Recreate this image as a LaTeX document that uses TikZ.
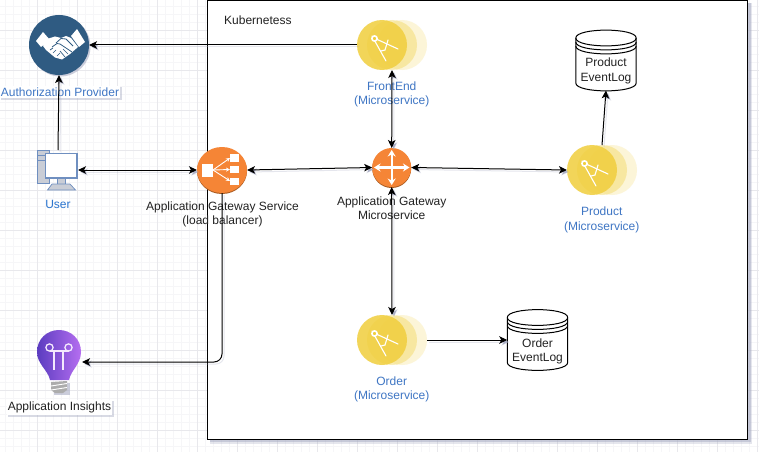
\documentclass[tikz,border=0pt]{standalone}
\usepackage{fontspec}
\setmainfont{Liberation Sans}
\usetikzlibrary{arrows.meta,shapes.geometric,shadows,calc}
\definecolor{gridmaj}{HTML}{E8E8EC}
\definecolor{gridmin}{HTML}{F6F6F8}
\definecolor{lblue}{HTML}{3F76C4}
\definecolor{ublue}{HTML}{2A74CE}
\definecolor{ink}{HTML}{222222}
\definecolor{authc}{HTML}{2F5B82}
\definecolor{orangec}{HTML}{F58536}
\definecolor{orangedk}{HTML}{A85A20}
\definecolor{yellowc}{HTML}{F0CE3C}
\definecolor{shadowc}{HTML}{A9ADC4}
\definecolor{towerc}{HTML}{C9CDD6}
\definecolor{frameb}{HTML}{6F8FC0}
\definecolor{bulbl}{HTML}{5B3CC0}
\definecolor{bulbr}{HTML}{B56EF0}
\tikzset{
  txt/.style={font=\fontsize{12}{14.4}\selectfont,align=center,text=ink,inner sep=0pt},
  bluetxt/.style={txt,text=lblue},
  tag/.style={txt,fill=white,inner xsep=1pt,inner ysep=2pt,drop shadow={shadow xshift=1.5pt,shadow yshift=-1.5pt,fill=shadowc,opacity=.45}},
  holder/.style={inner sep=0pt,outer sep=0pt,draw=none},
  conn/.style={line width=1pt,draw=black,preaction={draw=shadowc,draw opacity=.3,line width=1pt,transform canvas={shift={(2,2)}}}},
  one/.style={conn,-{Stealth[length=8pt,width=7.5pt,inset=2pt]}},
  both/.style={conn,{Stealth[length=8pt,width=7.5pt,inset=2pt]}-{Stealth[length=8pt,width=7.5pt,inset=2pt]}},
  icon/.style={draw=white,line width=1.1pt,line cap=round},
}
\newcommand{\MicroSvc}[3]{%
  \fill[yellowc,opacity=.2] (#1+10,#2) circle[radius=25];
  \fill[yellowc,opacity=.35] (#1,#2) circle[radius=25];
  \fill[yellowc,opacity=.85] (#1-10,#2) circle[radius=25];
  \node[holder,minimum width=70pt,minimum height=50pt] (#3) at (#1,#2) {};
  \begin{scope}[shift={(#1-10,#2)}]
    \draw[icon] (-10,-9) -- (4,16);
    \draw[icon] (-8,-7) -- (16,4);
    \draw[icon] (-1,6) -- (3,5) -- (6,-5);
    \draw[white,line width=1.6pt,fill=yellowc] (-7.5,-6.5) circle[radius=2.6];
  \end{scope}
}
\newcommand{\DataStore}[3]{%
  \node[holder,minimum width=60.5pt,minimum height=60pt] (#3) at (#1,#2) {};
  \begin{scope}[shift={(#1,#2)},line width=1pt]
    \draw[fill=white] (-30.2,-22.5) .. controls (-30.2,-33) and (30.2,-33) .. (30.2,-22.5)
      -- (30.2,22.5) .. controls (30.2,33) and (-30.2,33) .. (-30.2,22.5) -- cycle;
    \draw (-30.2,-22.5) .. controls (-30.2,-12) and (30.2,-12) .. (30.2,-22.5);
    \draw (-30.2,-18.5) .. controls (-30.2,-8) and (30.2,-8) .. (30.2,-18.5);
    \draw (-30.2,-14.5) .. controls (-30.2,-4) and (30.2,-4) .. (30.2,-14.5);
  \end{scope}
}
\begin{document}
\begin{tikzpicture}[x=1pt,y=-1pt]
\useasboundingbox (0,0) rectangle (759,452);
\fill[white] (0,0) rectangle (759,452);
% grid
\foreach \k in {0,...,95} {\draw[gridmin,line width=.6pt] ({5+8*\k},0) -- ({5+8*\k},452);}
\foreach \k in {0,...,56} {\draw[gridmin,line width=.6pt] (0,{6+8*\k}) -- (759,{6+8*\k});}
\foreach \k in {0,...,18} {\draw[gridmaj,line width=.8pt] ({37+40*\k},0) -- ({37+40*\k},452);}
\foreach \k in {0,...,10} {\draw[gridmaj,line width=.8pt] (0,{30+40*\k}) -- (759,{30+40*\k});}
% container
\fill[shadowc,opacity=.3] (209.5,3) rectangle (752,444);
\fill[shadowc,opacity=.5] (210,3) rectangle (750.5,442);
\draw[black,line width=1pt,fill=white] (207.5,.5) rectangle (747.5,439.5);
\node[txt,anchor=west] (kube) at (224,20.5) {Kubernetess};

% authorization provider
\node[circle,fill=authc,minimum size=60pt,inner sep=0pt,outer sep=0pt,drop shadow={shadow xshift=1.5pt,shadow yshift=-1.5pt,fill=shadowc,opacity=.6}] (auth) at (59,45) {};
\fill[white] (36,41) -- (43,32) -- (50,40) -- (41,47) -- cycle;
\fill[white] (71,36) -- (77,29) -- (85,42) -- (79,47) -- cycle;
\fill[white] (47,39) -- (55,36.5) -- (61,38) -- (66,36) -- (71,38) -- (78,47) -- (70,54) -- (62,59.5) -- (55,57.5) -- (46,50) -- (43,46) -- cycle;
\draw[authc,line width=.8pt,line join=round] (56,43) -- (61,38.5) -- (66,39) -- (73,46);
\draw[authc,line width=.8pt] (52,47) -- (57,43.5) -- (60,44) -- (72,52);
\draw[authc,line width=.7pt] (50,50) -- (53,48) (53,53) -- (56,50) (57,56) -- (60,53) (63,49) -- (68,54) (60,51) -- (65,57);
\node[tag,text=lblue] (authl) at (60,92) {Authorization Provider};

% user
\node[holder,minimum width=40pt,minimum height=40pt] (user) at (58,170) {};
\draw[frameb,fill=towerc,line width=.7pt] (37.5,150.5) rectangle (49.5,183);
\draw[frameb,line width=.6pt] (37.5,155) -- (45,155) (37.5,160) -- (45,160);
\draw[frameb,fill=towerc,line width=.7pt] (57.5,178) rectangle (65,184);
\draw[frameb,fill=towerc,line width=.7pt] (52,184) -- (70,184) -- (75.5,190) -- (47.5,190) -- cycle;
\draw[frameb,fill=white,line width=1.2pt] (45.5,153.5) rectangle (77,178);
\node[txt,text=ublue] (userl) at (58,204) {User};

% load balancer
\node[ellipse,fill=orangec,minimum width=50pt,minimum height=46pt,inner sep=0pt,outer sep=0pt,drop shadow={shadow xshift=0pt,shadow yshift=-1pt,fill=orangedk,opacity=1}] (lb) at (222,170) {};
\fill[white] (202,163.5) rectangle (213,177);
\fill[white] (230,154) rectangle (239,162);
\fill[white] (230,166) rectangle (239,173);
\fill[white] (230,178) rectangle (239,185);
\draw[white,line width=.9pt,-{Stealth[length=4pt,width=4pt]}] (213,170) -- (230,158);
\draw[white,line width=.9pt,-{Stealth[length=4pt,width=4pt]}] (213,170) -- (230,169.5);
\draw[white,line width=.9pt,-{Stealth[length=4pt,width=4pt]}] (213,170) -- (230,181);
\node[txt] (lbl) at (222.5,214.5) {Application Gateway Service\\(load balancer)};

% gateway microservice
\node[circle,fill=orangec,minimum size=39pt,inner sep=0pt,outer sep=0pt,drop shadow={shadow xshift=0pt,shadow yshift=-1pt,fill=orangedk,opacity=1}] (gw) at (391.7,167.5) {};
\draw[white,line width=2.4pt,{Stealth[length=6.5pt,width=8pt]}-{Stealth[length=6.5pt,width=8pt]}] (374,167.5) -- (409.5,167.5);
\draw[white,line width=2.4pt,{Stealth[length=6.5pt,width=8pt]}-{Stealth[length=6.5pt,width=8pt]}] (391.7,150) -- (391.7,185);
\node[txt] (gwl) at (391.7,208) {Application Gateway\\Microservice};

% microservices
\MicroSvc{392}{45}{front}
\node[bluetxt] (frontl) at (391.7,94.5) {FrontEnd\\(Microservice)};
\MicroSvc{602}{170}{prod}
\node[bluetxt] (prodl) at (601.7,220) {Product\\(Microservice)};
\MicroSvc{392}{340}{order}
\node[bluetxt] (orderl) at (391.7,389.5) {Order\\(Microservice)};

% data stores
\DataStore{606}{60.5}{plog}
\node[txt] (plogl) at (606,71) {Product\\EventLog};
\DataStore{537.5}{340}{olog}
\node[txt] (ologl) at (537.5,351.5) {Order\\EventLog};

% application insights
\node[holder,minimum width=45pt,minimum height=65pt] (ins) at (59.5,362) {};
\fill[shadowc,opacity=.6] (54,383) rectangle (70,395);
\shade[left color=bulbl,right color=bulbr] (50,380) .. controls (48,370) and (37,364) .. (37,352)
  .. controls (37,339) and (47,330) .. (59,330) .. controls (71,330) and (81,339) .. (81,352)
  .. controls (81,364) and (71,370) .. (69,380) -- cycle;
\fill[gray!65] (51,382) -- (67,381) -- (67,390) -- (63,393) -- (55,393) -- (51,390) -- cycle;
\draw[white,line width=.9pt] (51,386) -- (67,383.5) (51,390) -- (67,387.5);
\draw[white!85!bulbr,line width=1.3pt] (49.5,347.5) circle[radius=3.6];
\draw[white!85!bulbr,line width=1.3pt] (68.5,347.5) circle[radius=3.6];
\draw[white!85!bulbr,line width=1.3pt] (49.5,351) -- (68.5,351);
\draw[white!85!bulbr,line width=1.3pt] (54,351) -- (54,370) (63,351) -- (63,370);
\node[tag] (insl) at (59.5,407.5) {Application Insights};

% connectors
\draw[one] (front.west) -- (auth.east);
\draw[one] (user.north) -- (auth.south);
\draw[both] (user.east) -- (lb.west);
\draw[both] (lb.east) -- (gw.west);
\draw[both] (gw.north) -- (front.south);
\draw[both] (gw.south) -- (order.north);
\draw[both] (gw.east) -- (prod.west);
\draw[one] (prod.north) -- (plog.south);
\draw[one] (order.east) -- (olog.west);
\draw[one,rounded corners=8pt] (lb.south) |- (ins.east);
\end{tikzpicture}
\end{document}
